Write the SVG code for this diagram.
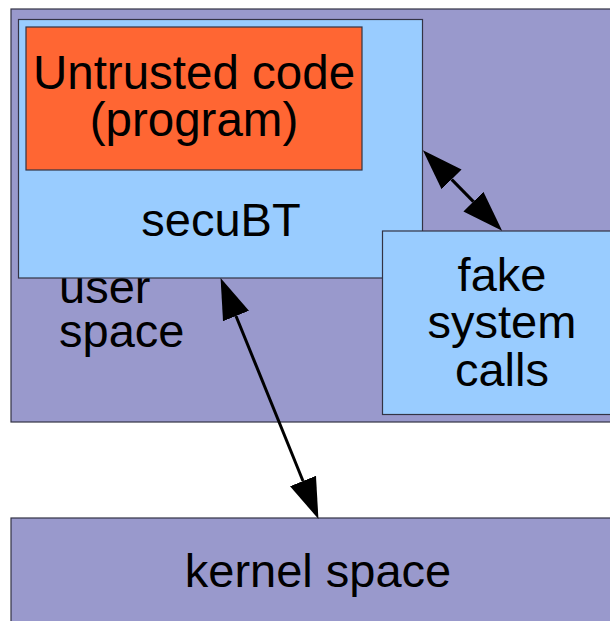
<svg xmlns="http://www.w3.org/2000/svg" width="610" height="621" viewBox="0 0 610 621">
<style>
.box{stroke:#333344;stroke-width:1.2}
.purple{fill:#9999cc}
.blue{fill:#99ccff}
.orange{fill:#ff6633}
text{font-family:"Liberation Sans",Arial,sans-serif;font-size:47px;fill:#000}
.c{text-anchor:middle}
.conn{stroke:#000;stroke-width:3;fill:none;marker-start:url(#ah);marker-end:url(#ah)}
</style>
<defs>
<marker id="ah" markerUnits="userSpaceOnUse" markerWidth="44" markerHeight="32" viewBox="0 -16 44 32" refX="0" refY="0" orient="auto-start-reverse">
<path d="M0,-14 L41,0 L0,14 z" fill="#000"/>
</marker>
</defs>
<rect width="610" height="621" fill="#fff"/>
<g id="user-space">
<rect class="box purple" x="11" y="9" width="610" height="413"/>
<text x="59" y="303">user</text>
<text x="59" y="347">space</text>
</g>
<g id="secubt">
<rect class="box blue" x="18.5" y="19.5" width="404" height="258.5"/>
<text class="c" x="221" y="236">secuBT</text>
</g>
<g id="untrusted-code">
<rect class="box orange" x="26" y="27" width="336" height="143"/>
<text class="c" x="194" y="88.5" style="font-size:47.5px">Untrusted code</text>
<text class="c" x="194" y="135.5" style="font-size:47.5px">(program)</text>
</g>
<g id="fake-system-calls">
<rect class="box blue" x="382.5" y="231" width="240" height="183.5"/>
<text class="c" x="502" y="291">fake</text>
<text class="c" x="502" y="338">system</text>
<text class="c" x="502" y="386">calls</text>
</g>
<g id="kernel-space">
<rect class="box purple" x="11" y="518" width="610" height="120"/>
<text class="c" x="318" y="587">kernel space</text>
</g>
<g id="connectors">
<path class="conn" d="M451.6,179.4 L473.4,201.6"/>
<path class="conn" d="M236,316 L303,481"/>
</g>
</svg>
